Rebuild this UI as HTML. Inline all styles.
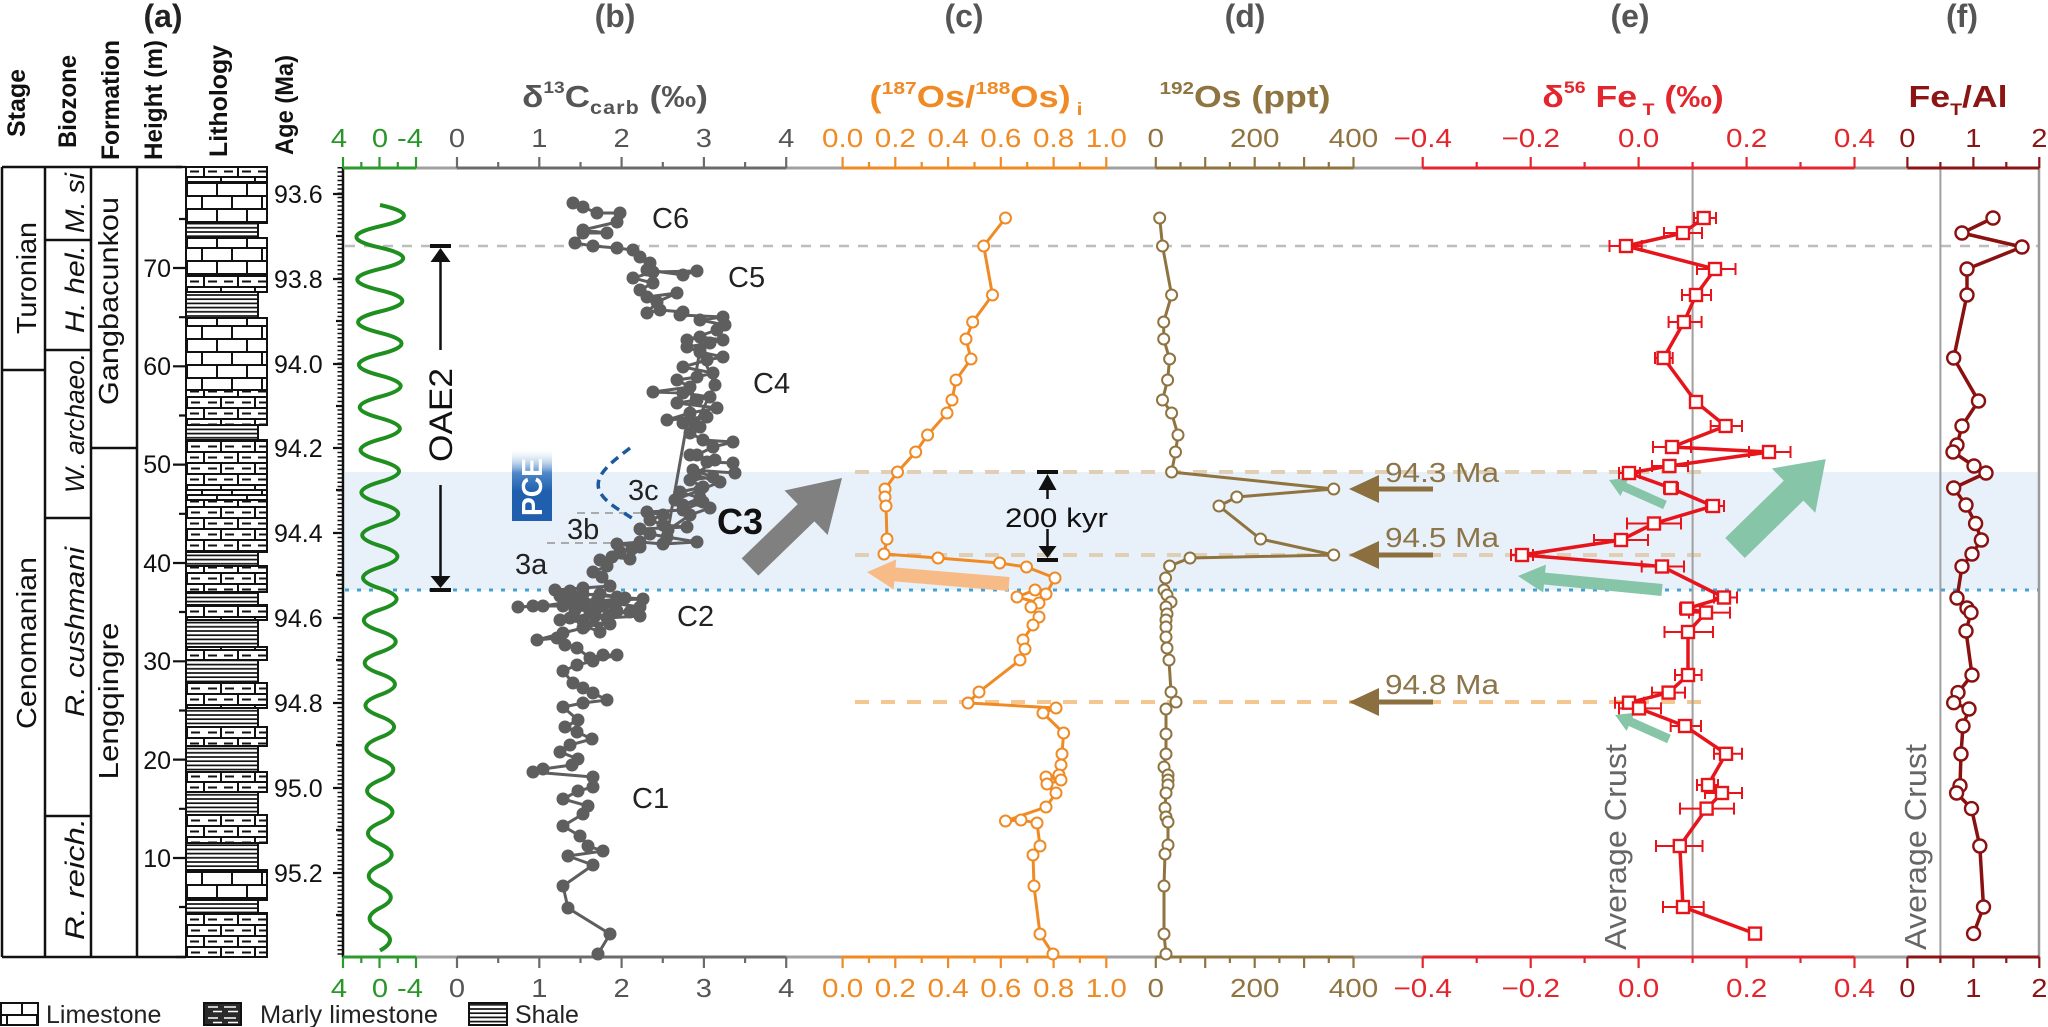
<!DOCTYPE html>
<html><head><meta charset="utf-8"><style>
html,body{margin:0;padding:0;background:#fff;}
svg{display:block;}
text{font-family:"Liberation Sans",Arial,sans-serif;}
</style></head><body>
<svg width="2048" height="1027" viewBox="0 0 2048 1027" xmlns="http://www.w3.org/2000/svg">
<defs>
<pattern id="pL" patternUnits="userSpaceOnUse" x="186" y="0" width="30" height="26">
<rect width="30" height="26" fill="#fff"/>
<path d="M0 1H30M0 14H30M1 1V14M16 14V26" stroke="#111" stroke-width="2" fill="none"/>
</pattern>
<pattern id="pM" patternUnits="userSpaceOnUse" x="186" y="0" width="34" height="22">
<rect width="34" height="22" fill="#fff"/>
<path d="M0 1H34M0 12H34M1 1V12M18 12V22" stroke="#111" stroke-width="2" fill="none"/>
<path d="M5 6.5H14M22 6.5H31M4 17.5H13M22 17.5H31" stroke="#111" stroke-width="2"/>
</pattern>
<pattern id="pML" patternUnits="userSpaceOnUse" x="204" y="1003" width="37" height="11">
<rect width="37" height="11" fill="#2a2a2a"/>
<path d="M4 4H14M20 4H32M9 8.5H18M24 8.5H34" stroke="#fff" stroke-width="1.6"/>
</pattern>
<pattern id="pS" patternUnits="userSpaceOnUse" x="0" y="0" width="10" height="4.2">
<rect width="10" height="4.2" fill="#fff"/>
<path d="M0 1H10" stroke="#111" stroke-width="1.7"/>
</pattern>
<linearGradient id="gP" x1="0" y1="0" x2="0" y2="1">
<stop offset="0" stop-color="#ffffff" stop-opacity="0"/>
<stop offset="0.35" stop-color="#4f88c8"/>
<stop offset="0.6" stop-color="#1f5fae"/>
<stop offset="1" stop-color="#1f5fae"/>
</linearGradient>
<marker id="mb" markerWidth="16" markerHeight="16" refX="8" refY="8" markerUnits="userSpaceOnUse"><circle cx="8" cy="8" r="6.5" fill="#5e5e5e"/></marker>
<marker id="mc" markerWidth="16" markerHeight="16" refX="8" refY="8" markerUnits="userSpaceOnUse"><circle cx="8" cy="8" r="5.5" fill="#fff" stroke="#f08a24" stroke-width="2"/></marker>
<marker id="md" markerWidth="16" markerHeight="16" refX="8" refY="8" markerUnits="userSpaceOnUse"><circle cx="8" cy="8" r="5.5" fill="#fff" stroke="#8f7440" stroke-width="2"/></marker>
<marker id="me" markerWidth="18" markerHeight="18" refX="9" refY="9" markerUnits="userSpaceOnUse"><rect x="3" y="3" width="12" height="12" fill="#fff" stroke="#e8141b" stroke-width="2.4"/></marker>
<marker id="mf" markerWidth="18" markerHeight="18" refX="9" refY="9" markerUnits="userSpaceOnUse"><circle cx="9" cy="9" r="6.5" fill="#fff" stroke="#8b1010" stroke-width="2.4"/></marker>
</defs>

<rect width="2048" height="1027" fill="#fff"/>

<!-- blue band -->
<rect x="345" y="472" width="1694" height="118" fill="#e8f1fa"/>

<!-- panel letters -->
<text x="163" y="27" text-anchor="middle" font-size="32" font-weight="bold" fill="#222">(a)</text>
<text x="615" y="27" text-anchor="middle" font-size="32" font-weight="bold" fill="#555">(b)</text>
<text x="964" y="27" text-anchor="middle" font-size="32" font-weight="bold" fill="#555">(c)</text>
<text x="1245" y="27" text-anchor="middle" font-size="32" font-weight="bold" fill="#555">(d)</text>
<text x="1630" y="27" text-anchor="middle" font-size="32" font-weight="bold" fill="#555">(e)</text>
<text x="1962" y="27" text-anchor="middle" font-size="32" font-weight="bold" fill="#555">(f)</text>

<!-- titles -->
<text transform="translate(615,107) scale(1.13,1)" text-anchor="middle" font-size="31" font-weight="bold" fill="#555">δ<tspan font-size="17" dy="-14">13</tspan><tspan dy="14">C</tspan><tspan font-size="19" dy="7" letter-spacing="1">carb</tspan><tspan dy="-7"> (‰)</tspan></text>
<text transform="translate(976,107) scale(1.17,1)" text-anchor="middle" font-size="31" font-weight="bold" fill="#f08a24">(<tspan font-size="18" dy="-13">187</tspan><tspan dy="13">Os/</tspan><tspan font-size="18" dy="-13">188</tspan><tspan dy="13">Os)</tspan><tspan font-size="18" dy="8"> i</tspan></text>
<text transform="translate(1245,107) scale(1.15,1)" text-anchor="middle" font-size="31" font-weight="bold" fill="#8f7440"><tspan font-size="18" dy="-13">192</tspan><tspan dy="13">Os (ppt)</tspan></text>
<text transform="translate(1633,107) scale(1.15,1)" text-anchor="middle" font-size="31" font-weight="bold" fill="#e3262d">δ<tspan font-size="17" dy="-14">56</tspan><tspan dy="14"> Fe</tspan><tspan font-size="17" dy="8"> T</tspan><tspan dy="-8"> (‰)</tspan></text>
<text transform="translate(1958,107) scale(1.15,1)" text-anchor="middle" font-size="31" font-weight="bold" fill="#8b1414">Fe<tspan font-size="17" dy="8">T</tspan><tspan dy="-8">/Al</tspan></text>

<!-- left headers -->
<g font-size="25" font-weight="bold" fill="#111">
<text transform="translate(25,137) rotate(-90)" textLength="68" lengthAdjust="spacingAndGlyphs">Stage</text>
<text transform="translate(76,148) rotate(-90)" textLength="93" lengthAdjust="spacingAndGlyphs">Biozone</text>
<text transform="translate(119,160) rotate(-90)" textLength="120" lengthAdjust="spacingAndGlyphs">Formation</text>
<text transform="translate(162,160) rotate(-90)" textLength="120" lengthAdjust="spacingAndGlyphs">Height (m)</text>
<text transform="translate(227,157) rotate(-90)" textLength="112" lengthAdjust="spacingAndGlyphs">Lithology</text>
<text transform="translate(293,155) rotate(-90)" textLength="100" lengthAdjust="spacingAndGlyphs">Age (Ma)</text>
</g>

<!-- table frame -->
<g stroke="#111" stroke-width="2.5" fill="none">
<path d="M2 167H182M2 957H186M2 167V957M45 167V957M91 167V957M137 167V957"/>
<path d="M2 370H45M45 240H91M45 350H91M45 518H91M45 816H91M91 448H137"/>
</g>
<g font-size="28" fill="#111">
<text transform="translate(36,278) rotate(-90)" text-anchor="middle" textLength="112" lengthAdjust="spacingAndGlyphs">Turonian</text>
<text transform="translate(36,643) rotate(-90)" text-anchor="middle" textLength="172" lengthAdjust="spacingAndGlyphs">Cenomanian</text>
<text transform="translate(118,301) rotate(-90)" text-anchor="middle" textLength="208" lengthAdjust="spacingAndGlyphs">Gangbacunkou</text>
<text transform="translate(118,701) rotate(-90)" text-anchor="middle" textLength="157" lengthAdjust="spacingAndGlyphs">Lengqingre</text>
</g>
<g font-size="27" font-style="italic" fill="#111">
<text transform="translate(84,203) rotate(-90)" text-anchor="middle" textLength="60" lengthAdjust="spacingAndGlyphs">M. si</text>
<text transform="translate(84,289) rotate(-90)" text-anchor="middle" textLength="88" lengthAdjust="spacingAndGlyphs">H. hel.</text>
<text transform="translate(84,423) rotate(-90)" text-anchor="middle" textLength="140" lengthAdjust="spacingAndGlyphs">W. archaeo.</text>
<text transform="translate(84,632) rotate(-90)" text-anchor="middle" textLength="170" lengthAdjust="spacingAndGlyphs">R. cushmani</text>
<text transform="translate(84,879) rotate(-90)" text-anchor="middle" textLength="122" lengthAdjust="spacingAndGlyphs">R. reich.</text>
</g>

<!-- height axis -->
<path d="M173 858H186M173 759.6H186M173 661.3H186M173 563H186M173 464.6H186M173 366.3H186M173 268H186M179 907H186M179 808.8H186M179 710.5H186M179 612H186M179 513.8H186M179 415.5H186M179 317.2H186M179 219H186M176 167H186M176 957H186" stroke="#111" stroke-width="2.2"/>
<g font-size="25" fill="#111" text-anchor="end">
<text x="171" y="867">10</text><text x="171" y="769">20</text><text x="171" y="670">30</text><text x="171" y="572">40</text><text x="171" y="473">50</text><text x="171" y="375">60</text><text x="171" y="277">70</text>
</g>

<!-- lithology -->
<g stroke="#111" stroke-width="2">
<rect x="186" y="167" width="81" height="15" fill="url(#pM)"/>
<rect x="186" y="182" width="81" height="41" fill="url(#pL)"/>
<rect x="186" y="223" width="72" height="15" fill="url(#pS)"/>
<rect x="186" y="238" width="81" height="37" fill="url(#pL)"/>
<rect x="186" y="275" width="81" height="17" fill="url(#pM)"/>
<rect x="186" y="292" width="72" height="26" fill="url(#pS)"/>
<rect x="186" y="318" width="81" height="72" fill="url(#pL)"/>
<rect x="186" y="390" width="81" height="35" fill="url(#pM)"/>
<rect x="186" y="425" width="72" height="15" fill="url(#pS)"/>
<rect x="186" y="440" width="81" height="50" fill="url(#pM)"/>
<rect x="186" y="490" width="81" height="10" fill="url(#pL)"/>
<rect x="186" y="500" width="81" height="52" fill="url(#pM)"/>
<rect x="186" y="552" width="72" height="14" fill="url(#pS)"/>
<rect x="186" y="566" width="81" height="26" fill="url(#pM)"/>
<rect x="186" y="592" width="72" height="13" fill="url(#pS)"/>
<rect x="186" y="605" width="81" height="15" fill="url(#pM)"/>
<rect x="186" y="620" width="72" height="27" fill="url(#pS)"/>
<rect x="186" y="647" width="81" height="13" fill="url(#pM)"/>
<rect x="186" y="660" width="72" height="23" fill="url(#pS)"/>
<rect x="186" y="683" width="81" height="25" fill="url(#pM)"/>
<rect x="186" y="708" width="72" height="19" fill="url(#pS)"/>
<rect x="186" y="727" width="81" height="19" fill="url(#pM)"/>
<rect x="186" y="746" width="72" height="26" fill="url(#pS)"/>
<rect x="186" y="772" width="81" height="20" fill="url(#pM)"/>
<rect x="186" y="792" width="72" height="23" fill="url(#pS)"/>
<rect x="186" y="815" width="81" height="28" fill="url(#pM)"/>
<rect x="186" y="843" width="72" height="27" fill="url(#pS)"/>
<rect x="186" y="870" width="81" height="30" fill="url(#pL)"/>
<rect x="186" y="900" width="72" height="13" fill="url(#pS)"/>
<rect x="186" y="913" width="81" height="44" fill="url(#pM)"/>
</g>

<!-- age axis -->
<line x1="343" y1="167" x2="343" y2="957" stroke="#111" stroke-width="2.5"/>
<line x1="340" y1="167" x2="340" y2="957" stroke="#111" stroke-width="5" stroke-dasharray="1.5 2.75"/>
<path d="M333 194H343M333 279H343M333 364H343M333 448H343M333 533H343M333 618H343M333 703H343M333 788H343M333 873H343M336 236H343M336 321H343M336 406H343M336 490H343M336 575H343M336 660H343M336 745H343M336 830H343M336 915H343" stroke="#111" stroke-width="2.2"/>
<g font-size="25" fill="#111">
<text x="274" y="203">93.6</text><text x="274" y="288">93.8</text><text x="274" y="373">94.0</text><text x="274" y="457">94.2</text><text x="274" y="542">94.4</text><text x="274" y="627">94.6</text><text x="274" y="712">94.8</text><text x="274" y="797">95.0</text><text x="274" y="882">95.2</text>
</g>

<!-- reference lines -->
<line x1="345" y1="246" x2="2039" y2="246" stroke="#bdbdbd" stroke-width="2.5" stroke-dasharray="10 9"/>
<line x1="345" y1="590" x2="2039" y2="590" stroke="#45a2d0" stroke-width="3" stroke-dasharray="4 8"/>
<line x1="855" y1="472" x2="1710" y2="472" stroke="#e0cfb5" stroke-width="4" stroke-dasharray="14 12"/>
<line x1="855" y1="555" x2="1710" y2="555" stroke="#e0cfb5" stroke-width="4" stroke-dasharray="14 12"/>
<line x1="855" y1="702" x2="1710" y2="702" stroke="#f6c690" stroke-width="4" stroke-dasharray="14 12"/>
<line x1="577" y1="513" x2="643" y2="513" stroke="#aaa" stroke-width="2" stroke-dasharray="8 6"/>
<line x1="547" y1="543" x2="613" y2="543" stroke="#aaa" stroke-width="2" stroke-dasharray="8 6"/>
<path d="M1692.6 168V957M1940.4 168V957" stroke="#a0a0a0" stroke-width="2"/>
<path d="M2039 168V957" stroke="#9a9a9a" stroke-width="2.5"/>

<!-- top axis -->
<line x1="343" y1="168" x2="2039" y2="168" stroke="#a0a0a0" stroke-width="3"/>
<line x1="343" y1="168" x2="416" y2="168" stroke="#2e9a2e" stroke-width="3"/>
<line x1="457" y1="168" x2="786.2" y2="168" stroke="#6b6b6b" stroke-width="3"/>
<line x1="842.6" y1="168" x2="1106.3" y2="168" stroke="#f08a24" stroke-width="3"/>
<line x1="1155.8" y1="168" x2="1353.5" y2="168" stroke="#8f7440" stroke-width="3"/>
<line x1="1422.7" y1="168" x2="1854.5" y2="168" stroke="#e3262d" stroke-width="3"/>
<line x1="1907.4" y1="168" x2="2039.3" y2="168" stroke="#8b1414" stroke-width="3"/>
<g stroke-width="2.2">
<path d="M343 168V157M379.5 168V157M416 168V157M361.3 168V162M397.8 168V162" stroke="#2e9a2e"/>
<path d="M457 168V157M539.3 168V157M621.6 168V157M703.9 168V157M786.2 168V157M498.2 168V162M580.5 168V162M662.8 168V162M745.1 168V162" stroke="#6b6b6b"/>
<path d="M842.6 168V157M895.3 168V157M948.1 168V157M1000.8 168V157M1053.6 168V157M1106.3 168V157M869 168V162M921.7 168V162M974.5 168V162M1027.2 168V162M1079.9 168V162" stroke="#f08a24"/>
<path d="M1155.8 168V157M1205.2 168V157M1254.7 168V157M1304.1 168V157M1353.5 168V157M1180.5 168V162M1229.9 168V162M1279.4 168V162M1328.8 168V162" stroke="#8f7440"/>
<path d="M1422.7 168V157M1530.7 168V157M1638.6 168V157M1746.6 168V157M1854.5 168V157M1476.7 168V162M1584.6 168V162M1692.6 168V162M1800.5 168V162" stroke="#e3262d"/>
<path d="M1907.4 168V157M1973.4 168V157M2039.3 168V157M1940.4 168V162M2006.3 168V162" stroke="#8b1414"/>
</g>
<!-- bottom axis -->
<line x1="343" y1="957" x2="2039" y2="957" stroke="#a0a0a0" stroke-width="3"/>
<line x1="343" y1="957" x2="416" y2="957" stroke="#2e9a2e" stroke-width="3"/>
<line x1="457" y1="957" x2="786.2" y2="957" stroke="#6b6b6b" stroke-width="3"/>
<line x1="842.6" y1="957" x2="1106.3" y2="957" stroke="#f08a24" stroke-width="3"/>
<line x1="1155.8" y1="957" x2="1353.5" y2="957" stroke="#8f7440" stroke-width="3"/>
<line x1="1422.7" y1="957" x2="1854.5" y2="957" stroke="#e3262d" stroke-width="3"/>
<line x1="1907.4" y1="957" x2="2039.3" y2="957" stroke="#8b1414" stroke-width="3"/>
<g stroke-width="2.2">
<path d="M343 957V968M379.5 957V968M416 957V968M361.3 957V963M397.8 957V963" stroke="#2e9a2e"/>
<path d="M457 957V968M539.3 957V968M621.6 957V968M703.9 957V968M786.2 957V968M498.2 957V963M580.5 957V963M662.8 957V963M745.1 957V963" stroke="#6b6b6b"/>
<path d="M842.6 957V968M895.3 957V968M948.1 957V968M1000.8 957V968M1053.6 957V968M1106.3 957V968M869 957V963M921.7 957V963M974.5 957V963M1027.2 957V963M1079.9 957V963" stroke="#f08a24"/>
<path d="M1155.8 957V968M1205.2 957V968M1254.7 957V968M1304.1 957V968M1353.5 957V968M1180.5 957V963M1229.9 957V963M1279.4 957V963M1328.8 957V963" stroke="#8f7440"/>
<path d="M1422.7 957V968M1530.7 957V968M1638.6 957V968M1746.6 957V968M1854.5 957V968M1476.7 957V963M1584.6 957V963M1692.6 957V963M1800.5 957V963" stroke="#e3262d"/>
<path d="M1907.4 957V968M1973.4 957V968M2039.3 957V968M1940.4 957V963M2006.3 957V963" stroke="#8b1414"/>
</g>

<!-- tick labels -->
<g font-size="26" text-anchor="middle">
<g fill="#2a962a">
<text transform="translate(339,147) scale(1.12,1)">4</text><text transform="translate(380,147) scale(1.12,1)">0</text><text transform="translate(410,147) scale(1.12,1)">-4</text>
<text transform="translate(339,997) scale(1.12,1)">4</text><text transform="translate(380,997) scale(1.12,1)">0</text><text transform="translate(410,997) scale(1.12,1)">-4</text>
</g>
<g fill="#555">
<text transform="translate(457,147) scale(1.12,1)">0</text><text transform="translate(539.3,147) scale(1.12,1)">1</text><text transform="translate(621.6,147) scale(1.12,1)">2</text><text transform="translate(703.9,147) scale(1.12,1)">3</text><text transform="translate(786.2,147) scale(1.12,1)">4</text>
<text transform="translate(457,997) scale(1.12,1)">0</text><text transform="translate(539.3,997) scale(1.12,1)">1</text><text transform="translate(621.6,997) scale(1.12,1)">2</text><text transform="translate(703.9,997) scale(1.12,1)">3</text><text transform="translate(786.2,997) scale(1.12,1)">4</text>
</g>
<g fill="#f08a24">
<text transform="translate(842.6,147) scale(1.14,1)">0.0</text><text transform="translate(895.3,147) scale(1.14,1)">0.2</text><text transform="translate(948.1,147) scale(1.14,1)">0.4</text><text transform="translate(1000.8,147) scale(1.14,1)">0.6</text><text transform="translate(1053.6,147) scale(1.14,1)">0.8</text><text transform="translate(1106.3,147) scale(1.14,1)">1.0</text>
<text transform="translate(842.6,997) scale(1.14,1)">0.0</text><text transform="translate(895.3,997) scale(1.14,1)">0.2</text><text transform="translate(948.1,997) scale(1.14,1)">0.4</text><text transform="translate(1000.8,997) scale(1.14,1)">0.6</text><text transform="translate(1053.6,997) scale(1.14,1)">0.8</text><text transform="translate(1106.3,997) scale(1.14,1)">1.0</text>
</g>
<g fill="#8f7440">
<text transform="translate(1155.8,147) scale(1.14,1)">0</text><text transform="translate(1254.7,147) scale(1.14,1)">200</text><text transform="translate(1353.5,147) scale(1.14,1)">400</text>
<text transform="translate(1155.8,997) scale(1.14,1)">0</text><text transform="translate(1254.7,997) scale(1.14,1)">200</text><text transform="translate(1353.5,997) scale(1.14,1)">400</text>
</g>
<g fill="#e3262d">
<text transform="translate(1422.7,147) scale(1.14,1)">−0.4</text><text transform="translate(1530.7,147) scale(1.14,1)">−0.2</text><text transform="translate(1638.6,147) scale(1.14,1)">0.0</text><text transform="translate(1746.6,147) scale(1.14,1)">0.2</text><text transform="translate(1854.5,147) scale(1.14,1)">0.4</text>
<text transform="translate(1422.7,997) scale(1.14,1)">−0.4</text><text transform="translate(1530.7,997) scale(1.14,1)">−0.2</text><text transform="translate(1638.6,997) scale(1.14,1)">0.0</text><text transform="translate(1746.6,997) scale(1.14,1)">0.2</text><text transform="translate(1854.5,997) scale(1.14,1)">0.4</text>
</g>
<g fill="#8b1414">
<text transform="translate(1907.4,147) scale(1.12,1)">0</text><text transform="translate(1973.4,147) scale(1.12,1)">1</text><text transform="translate(2039.3,147) scale(1.12,1)">2</text>
<text transform="translate(1907.4,997) scale(1.12,1)">0</text><text transform="translate(1973.4,997) scale(1.12,1)">1</text><text transform="translate(2039.3,997) scale(1.12,1)">2</text>
</g>
</g>

<!-- green wave -->
<path d="M380 205 Q428 215.65 380 226.3 Q332.8 236.95 380 247.6 Q426.4 258.25 380 268.9 Q334.5 279.55 380 290.2 Q424.7 300.85 380 311.5 Q336.1 322.15 380 332.8 Q423.1 343.45 380 354.1 Q337.8 364.75 380 375.4 Q421.4 386.05 380 396.7 Q339.4 407.35 380 418 Q419.8 428.65 380 439.3 Q341.1 449.95 380 460.6 Q418.1 471.25 380 481.9 Q342.7 492.55 380 503.2 Q416.5 513.85 380 524.5 Q344.4 535.15 380 545.8 Q414.8 556.45 380 567.1 Q346 577.75 380 588.4 Q413.2 599.05 380 609.7 Q347.6 620.35 380 631 Q411.5 641.65 380 652.3 Q349.3 662.95 380 673.6 Q409.9 684.25 380 694.9 Q350.9 705.55 380 716.2 Q408.2 726.85 380 737.5 Q352.6 748.15 380 758.8 Q406.6 769.45 380 780.1 Q354.2 790.75 380 801.4 Q404.9 812.05 380 822.7 Q355.9 833.35 380 844 Q403.3 854.65 380 865.3 Q357.5 875.95 380 886.6 Q401.6 897.25 380 907.9 Q359.2 918.55 380 929.2 Q400 939.85 380 950.5" fill="none" stroke="#1f8f1f" stroke-width="4"/>

<!-- OAE2 arrow -->
<g fill="#111" stroke="#111">
<path d="M430 246H451" stroke-width="4"/>
<polygon points="440.5,248 430.5,262 450.5,262" stroke="none"/>
<path d="M440.5 262V350M440.5 485V576" stroke-width="2.5"/>
<polygon points="440.5,588 430.5,576 450.5,576" stroke="none"/>
<path d="M430 590H451" stroke-width="4"/>
</g>
<text transform="translate(452,415) rotate(-90)" text-anchor="middle" font-size="32" fill="#111" textLength="94" lengthAdjust="spacingAndGlyphs">OAE2</text>

<!-- PCE -->
<rect x="512" y="447" width="40" height="74" fill="url(#gP)"/>
<text transform="translate(542,487) rotate(-90)" text-anchor="middle" font-size="29" font-weight="bold" fill="#fff" textLength="58" lengthAdjust="spacingAndGlyphs">PCE</text>
<path d="M630 448 C612 462 592 476 600 492 C606 504 624 512 636 521" fill="none" stroke="#1b5a9c" stroke-width="3.5" stroke-dasharray="9 6"/>

<!-- panel b data -->
<polyline fill="none" stroke="#5e5e5e" stroke-width="3" marker-start="url(#mb)" marker-mid="url(#mb)" marker-end="url(#mb)" points="598,954 610,934 568,908 563,886 593,865 568,856 603,851 588,846 580,836 563,826 583,814 588,806 563,799 578,791 593,787 593,777 533,772 543,769 572,765 578,759 560,752 570,745 592,739 577,732 565,727 578,720 563,707 583,703 607,700 593,693 583,688 573,683 563,671 577,665 593,661 617,655 603,655 590,658 577,648 565,645 557,638 537,640 563,633 583,628 583,621 570,618 590,614 607,618 640,616 617,611 597,608 563,606 533,606 518,607 543,606 570,602 597,601 643,599 617,597 583,594 570,591 555,590 583,588 610,586 602,577 593,572 607,566 600,560 612,557 630,559 620,552 632,549 640,547 617,544 640,542 663,544 697,542 667,537 650,534 640,529 687,527 663,525 650,520 663,515 647,512 683,510 703,502 683,505 700,498 680,492 703,487 690,480 713,477 693,470 735,473 733,463 707,462 697,455 713,447 733,442 703,440 690,433 700,427 683,423 707,417 667,420 690,413 717,408 677,403 697,400 710,397 683,393 653,392 690,387 677,380 697,377 713,373 683,367 707,360 723,357 700,352 687,347 710,343 723,340 700,337 687,340 717,330 725,325 700,320 723,317 680,315 683,312 660,310 647,313 657,302 677,293 647,297 640,290 653,283 633,278 653,272 697,271 683,275 647,270 650,263 640,257 633,250 617,248 593,246 575,243 583,233 607,233 583,230 617,222 620,213 597,213 583,207 573,203"/>
<polyline fill="none" stroke="#5e5e5e" stroke-width="3" marker-start="url(#mb)" marker-mid="url(#mb)" marker-end="url(#mb)" points="560,596 600,594 625,598 585,603 615,606 575,610 630,612 595,616 560,620 610,624 585,626 600,632 575,598 640,607"/>
<polyline fill="none" stroke="#5e5e5e" stroke-width="3" marker-start="url(#mb)" marker-mid="url(#mb)" marker-end="url(#mb)" points="690,455 715,460 695,475 720,482 700,490 675,500 710,508 690,515 668,530 700,350 715,385 695,425"/>

<!-- b labels -->
<g font-size="29" fill="#222">
<text x="652" y="228">C6</text>
<text x="728" y="287">C5</text>
<text x="753" y="393">C4</text>
<text x="628" y="500">3c</text>
<text x="567" y="539">3b</text>
<text x="515" y="574">3a</text>
<text x="677" y="626">C2</text>
<text x="632" y="808">C1</text>
</g>
<text x="717" y="534" font-size="36" font-weight="bold" fill="#111">C3</text>

<!-- gray arrow -->
<polygon points="0,-12 78,-12 78,-31 128,0 78,31 78,12 0,12" fill="#808080" transform="translate(750,567) rotate(-44.05)"/>

<!-- panel c data -->
<polyline fill="none" stroke="#f08a24" stroke-width="3" marker-start="url(#mc)" marker-mid="url(#mc)" marker-end="url(#mc)" points="1005.5,218 983.7,246 992.5,295 972.7,322 966,339 971,359 956,380 952,400 947,413 927.6,435 915.7,452 897.5,472 885,489 885,497 886,506 887,539 884,554 938,558 999.6,563 1026.5,567 1055,578 1046,594 1035,590 1017,597 1039,603 1031,607 1039,617 1033,625 1023,640 1025,649 1020,660 979,692 968,703 1056,708 1043,713 1063.6,733 1062,754 1061,765 1059,775 1046,777 1061,780 1047,784 1056,793 1046,807 1005.5,821 1021,820 1037,823 1040,846 1033,855 1034,886 1040,934 1053,954"/>

<!-- orange arrow -->
<polygon points="0,-7 114.5,-7 114.5,-15 142.5,0 114.5,15 114.5,7 0,7" fill="#f7bb88" transform="translate(1009,584) rotate(184.8)"/>

<!-- 200 kyr -->
<g fill="#111" stroke="#111">
<path d="M1037 472H1058" stroke-width="4"/>
<polygon points="1047.5,474 1038.5,490 1056.5,490" stroke="none"/>
<path d="M1047.5 490V499M1047.5 529V547" stroke-width="2.5"/>
<polygon points="1047.5,558 1038.5,546 1056.5,546" stroke="none"/>
<path d="M1037 560H1058" stroke-width="4"/>
</g>
<text x="1005" y="527" font-size="27" fill="#111" textLength="103" lengthAdjust="spacingAndGlyphs">200 kyr</text>

<!-- panel d data -->
<polyline fill="none" stroke="#8f7440" stroke-width="3" marker-start="url(#md)" marker-mid="url(#md)" marker-end="url(#md)" points="1159.7,218 1162.5,246 1171.6,295 1163.7,322 1163.7,339 1169.6,359 1167.6,380 1162.5,400 1171.6,413 1178,435 1175.5,452 1171.6,472 1333.7,489 1236.8,497 1219,506 1260.5,539 1333.7,555 1190,558 1169.6,566 1165.6,578 1164,590 1167,595 1171,602 1166,607 1167,614 1166,620 1166,627 1166,637 1167,648 1169,660 1171,692 1176,702 1166,709 1166,734 1166,754 1164,767 1168,775 1168,780 1168,785 1166,793 1165,808 1166,817 1168,822 1168,845 1165,854 1164,886 1164,934 1166,954"/>

<!-- brown arrows & labels -->
<g fill="#8b6f3e">
<polygon points="0,-2.5 54,-2.5 54,-14 84,0 54,14 54,2.5 0,2.5" transform="translate(1433,489) rotate(180)"/>
<polygon points="0,-2.5 54,-2.5 54,-14 84,0 54,14 54,2.5 0,2.5" transform="translate(1433,555) rotate(180)"/>
<polygon points="0,-2.5 54,-2.5 54,-14 84,0 54,14 54,2.5 0,2.5" transform="translate(1433,702) rotate(180)"/>
</g>
<g font-size="28" fill="#8c7548">
<text x="1385" y="482" textLength="114" lengthAdjust="spacingAndGlyphs">94.3 Ma</text>
<text x="1385" y="547" textLength="114" lengthAdjust="spacingAndGlyphs">94.5 Ma</text>
<text x="1385" y="694" textLength="114" lengthAdjust="spacingAndGlyphs">94.8 Ma</text>
</g>

<!-- green arrows -->
<g fill="#86c5a7">
<polygon points="0,-14 82,-14 82,-31 127,0 82,31 82,14 0,14" transform="translate(1735,548) rotate(-44.4)"/>
<polygon points="0,-6 118,-6 118,-14 144.7,0 118,14 118,6 0,6" transform="translate(1662,590) rotate(185.55)"/>
<polygon points="0,-4.5 44.3,-4.5 44.3,-10 61.3,0 44.3,10 44.3,4.5 0,4.5" transform="translate(1665,505) rotate(204.06)"/>
<polygon points="0,-4.5 42,-4.5 42,-10 59,0 42,10 42,4.5 0,4.5" transform="translate(1669,739) rotate(204)"/>
</g>

<!-- Average crust labels -->
<text transform="translate(1626,847) rotate(-90)" text-anchor="middle" font-size="31" fill="#666" textLength="206" lengthAdjust="spacingAndGlyphs">Average Crust</text>
<text transform="translate(1926,847) rotate(-90)" text-anchor="middle" font-size="31" fill="#666" textLength="206" lengthAdjust="spacingAndGlyphs">Average Crust</text>

<!-- panel e error bars -->
<path fill="none" stroke="#e8141b" stroke-width="2" d="M1694 218H1716M1694 212V224M1716 212V224M1664 233H1702M1664 227V239M1702 227V239M1609.5 246H1641.7M1609.5 240V252M1641.7 240V252M1697 269H1735.5M1697 263V275M1735.5 263V275M1682 295H1711M1682 289V301M1711 289V301M1668.6 322H1701.6M1668.6 316V328M1701.6 316V328M1655 358H1672.7M1655 352V364M1672.7 352V364M1690 402H1702M1690 396V408M1702 396V408M1710.7 426H1742M1710.7 420V432M1742 420V432M1653 447H1691M1653 441V453M1691 441V453M1749 452H1790.5M1749 446V458M1790.5 446V458M1652 466H1688M1652 460V472M1688 460V472M1619 473H1640M1619 467V479M1640 467V479M1664 488H1678M1664 482V494M1678 482V494M1706 506H1724M1706 500V512M1724 500V512M1627 523.5H1681M1627 517.5V529.5M1681 517.5V529.5M1594 540H1648M1594 534V546M1648 534V546M1511 555H1533M1511 549V561M1533 549V561M1641.7 566.5H1684M1641.7 560.5V572.5M1684 560.5V572.5M1714 597.5H1737M1714 591.5V603.5M1737 591.5V603.5M1680 608.6H1693M1680 602.6V614.6M1693 602.6V614.6M1689 612.6H1730M1689 606.6V618.6M1730 606.6V618.6M1664.5 632H1713M1664.5 626V638M1713 626V638M1675 675H1701.6M1675 669V681M1701.6 669V681M1652 692.6H1685M1652 686.6V698.6M1685 686.6V698.6M1615 702.7H1644M1615 696.7V708.7M1644 696.7V708.7M1619 708.4H1661M1619 702.4V714.4M1661 702.4V714.4M1670.7 726H1701M1670.7 720V732M1701 720V732M1714 753.8H1742M1714 747.8V759.8M1742 747.8V759.8M1697 785H1718M1697 779V791M1718 779V791M1705 793H1742M1705 787V799M1742 787V799M1680 808.6H1734M1680 802.6V814.6M1734 802.6V814.6M1656 846H1702.5M1656 840V852M1702.5 840V852M1663 907H1703.7M1663 901V913M1703.7 901V913"/>
<polyline fill="none" stroke="#e8141b" stroke-width="3.5" marker-start="url(#me)" marker-mid="url(#me)" marker-end="url(#me)" points="1703.7,218 1683,233 1626,246 1715,269 1696,295 1684,322 1663.6,358 1696,402 1725.6,426 1672,447 1769,452 1669.4,466 1629,473 1670.7,488 1713,506 1654,523.5 1621,540 1522,555 1662,566.5 1724,597.5 1687,608.6 1706,612.6 1688,632 1688,675 1668.6,692.6 1629,702.7 1639,708.4 1685,726 1726,753.8 1708,785 1722,793 1706.6,808.6 1679.8,846 1683,907 1755,933.6"/>

<!-- panel f data -->
<polyline fill="none" stroke="#8b1010" stroke-width="3.5" marker-start="url(#mf)" marker-mid="url(#mf)" marker-end="url(#mf)" points="1993,218 1962,233 2022,247 1967,269 1967,295 1953.7,358 1978.5,401 1962,426 1957,445 1953,452 1974,466 1986,473 1953.7,488 1966,505 1975.6,523.5 1981.4,540 1972,554 1962,566.5 1957,598 1967,608 1971,612.6 1966,631 1972,675 1958,692.6 1953.7,702.7 1969,709 1963,726 1961,754 1960,785.7 1956.6,793 1971.5,808.6 1979.8,846 1983.5,907 1973.6,933.6"/>

<!-- legend -->
<rect x="1" y="1003" width="37" height="22" fill="url(#pL)" stroke="#111" stroke-width="2"/>
<text x="46" y="1023" font-size="25" fill="#222">Limestone</text>
<rect x="204" y="1003" width="37" height="22" fill="url(#pML)" stroke="#111" stroke-width="2"/>
<text x="260" y="1023" font-size="25" fill="#222" textLength="178" lengthAdjust="spacingAndGlyphs">Marly limestone</text>
<rect x="469" y="1003" width="38" height="22" fill="url(#pS)" stroke="#111" stroke-width="2"/>
<text x="515" y="1023" font-size="25" fill="#222">Shale</text>
</svg>
</body></html>
